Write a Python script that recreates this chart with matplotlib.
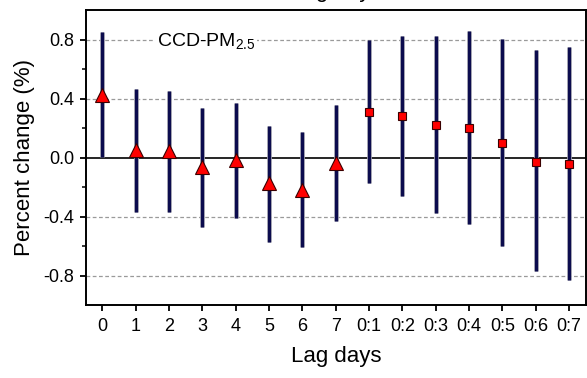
import matplotlib
matplotlib.use("Agg")
import matplotlib.pyplot as plt
import matplotlib.patheffects as pe

plt.rcParams['font.family'] = ['Liberation Sans', 'DejaVu Sans']
plt.rcParams['mathtext.fontset'] = 'custom'
plt.rcParams['mathtext.rm'] = 'Liberation Sans'
plt.rcParams['mathtext.it'] = 'Liberation Sans'

# lag days: single-day lags (triangles) then moving averages (squares)
single_labels = ['0', '1', '2', '3', '4', '5', '6', '7']
single_est = [0.425, 0.05, 0.047, -0.065, -0.02, -0.174, -0.219, -0.038]
single_lo = [0.005, -0.37, -0.366, -0.47, -0.413, -0.571, -0.607, -0.431]
single_hi = [0.85, 0.466, 0.452, 0.335, 0.373, 0.215, 0.17, 0.355]

ma_labels = ['0:1', '0:2', '0:3', '0:4', '0:5', '0:6', '0:7']
ma_est = [0.312, 0.283, 0.222, 0.201, 0.098, -0.027, -0.043]
ma_lo = [-0.174, -0.258, -0.377, -0.452, -0.603, -0.768, -0.829]
ma_hi = [0.80, 0.827, 0.825, 0.857, 0.803, 0.728, 0.75]

labels = single_labels + ma_labels
x_single = list(range(len(single_labels)))
x_ma = list(range(len(single_labels), len(labels)))

fig = plt.figure(figsize=(5.87, 3.78), dpi=100)
ax = fig.add_axes([0.146, 0.193, 0.852, 0.7805])

for y in [-0.8, -0.4, 0.4, 0.8]:
    ax.axhline(y, color='#9a9a9a', lw=0.9, ls=(0, (3, 2)), zorder=0)
ax.axhline(0, color='black', lw=1.2, zorder=1)

bar_fx = [pe.Stroke(linewidth=3.4, foreground='#9a9aa8'), pe.Normal()]
ax.vlines(x_single, single_lo, single_hi, color='#0c0c4e', lw=2.2, zorder=2,
          path_effects=bar_fx)
ax.vlines(x_ma, ma_lo, ma_hi, color='#0c0c4e', lw=2.2, zorder=2,
          path_effects=bar_fx)

ax.plot(x_single, single_est, ls='none', marker='^', ms=9.5, mfc='#ff0000',
        mec='#3a0000', mew=0.8, zorder=3)
ax.plot(x_ma, ma_est, ls='none', marker='s', ms=6.4, mfc='#ff0000',
        mec='#3a0000', mew=0.8, zorder=3)

ax.set_xlim(-0.5, len(labels) - 0.5)
ax.set_ylim(-1.0, 1.0)
ax.set_xticks(range(len(labels)))
ax.set_xticklabels(labels)
ax.set_yticks([-0.8, -0.4, 0.0, 0.4, 0.8])
ax.set_yticks([-0.6, -0.2, 0.2, 0.6], minor=True)
ax.set_yticklabels(['-0.8', '-0.4', '0.0', '0.4', '0.8'])

ax.tick_params(axis='both', which='major', direction='out', length=4.5,
               width=1.3, labelsize=13, color='black')
ax.tick_params(axis='y', which='minor', direction='out', length=3, width=1.1)
ax.tick_params(axis='y', pad=4)
ax.tick_params(axis='x', pad=5)
for s in ax.spines.values():
    s.set_linewidth(1.4)

ax.set_xlabel('Lag days', fontsize=16, labelpad=8)
ax.set_ylabel('Percent change (%)', fontsize=16, labelpad=6)

ax.text(0.142, 0.879, r'CCD-PM$_{\mathrm{2.5}}$', transform=ax.transAxes,
        fontsize=14, va='baseline', ha='left', zorder=4,
        bbox=dict(facecolor='white', edgecolor='none', pad=1.5))

# top axis title, mostly cut off by the figure edge
fig.text(0.572, 1.008, 'Lag days', ha='center', va='baseline', fontsize=16)

fig.savefig('out.png', dpi=100)
